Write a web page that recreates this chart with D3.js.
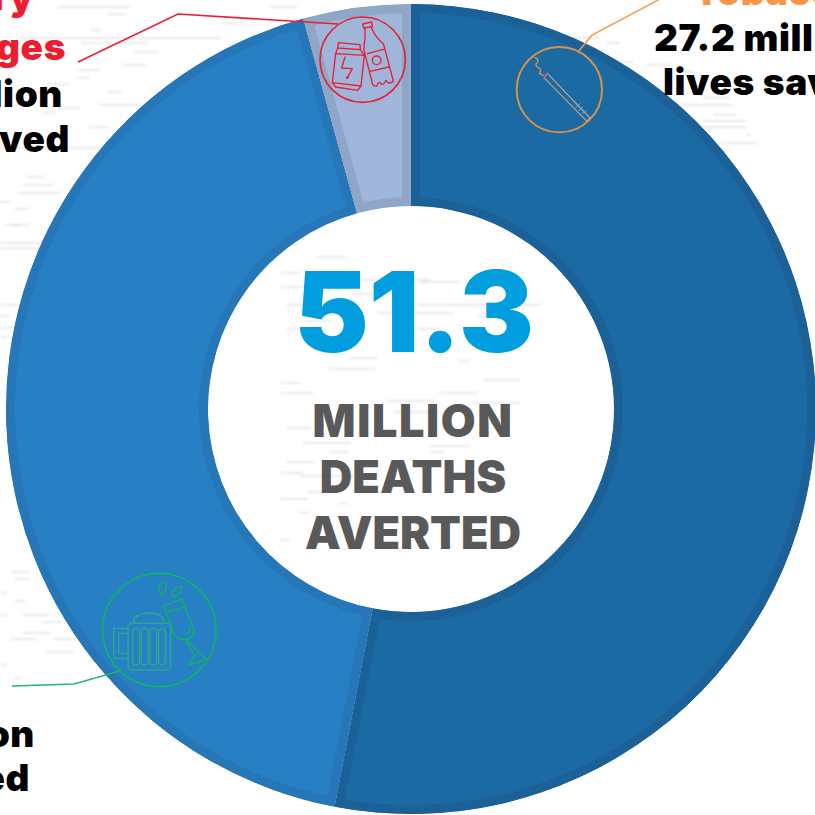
<!DOCTYPE html>
<html>
<head>
<meta charset="utf-8">
<script src="https://cdn.jsdelivr.net/npm/d3@7/dist/d3.min.js"></script>
<style>
  html, body { margin: 0; padding: 0; background: #fff; overflow: hidden; }
  svg { display: block; }
  text { font-family: Inter, "Open Sans", sans-serif; font-weight: 900; }
</style>
</head>
<body>
<svg id="chart" width="815" height="815"></svg>
<script>
// Deaths averted, millions of lives, clockwise from twelve o'clock
const categories = ["Tobacco", "Alcohol", "Sugary Beverages"];
const livesSaved = [27.2, 21.9, 2.2];
const sliceFill = ["#1c6aa3", "#2780c4", "#9fb6da"];
const sliceEdge = ["#1b6198", "#2777b8", "#8fa6c6"];
const accent = ["#f7964a", "#22b573", "#ed1c2e"];

const totalLabel = "51.3";
const centreLines = ["MILLION", "DEATHS", "AVERTED"];
const centreTracking = [1.6, 0, 0];

// Faint ghosted print showing through the white page: x, y, length
const paperStreaks = [
  [317,257,28],[280,273,20],[358,280,72],[420,282,40],[280,287,26],[352,294,25],[287,305,50],[417,305,123],
  [377,313,77],[305,321,28],[287,329,30],[417,329,23],[477,316,30],[350,358,27],[328,369,48],[458,361,12],
  [483,380,37],[280,383,20],[280,393,33],[440,393,38],[387,401,47],[473,403,47],[393,412,47],[287,428,24],
  [303,443,48],[430,446,40],[330,452,18],[430,452,13],[287,462,27],[280,473,23],[300,476,57],[307,492,17],
  [280,499,27],[340,503,8],[300,513,8],[280,540,10],
  [57,7,73],[108,14,17],[270,7,27],[222,23,22],[90,30,10],[20,38,200],[82,43,65],[133,52,25],[77,70,23],
  [123,65,23],[77,78,12],[47,84,23],[107,92,15],[100,105,43],[58,108,22],[43,113,13],[88,127,20],[0,148,107],
  [27,177,17],[23,185,30],[17,193,43],[0,202,10],[15,209,13],[13,225,17],[0,243,43],[0,248,40],[5,225,15],
  [0,305,17],[0,316,10],[0,328,13],[0,337,7],
  [12,572,18],[15,579,15],[0,593,7],[15,601,10],[0,615,8],[23,615,27],[43,622,20],[23,633,27],[10,639,27],
  [53,639,23],[45,652,30],[0,665,7],[15,678,7],
  [570,38,30],[607,43,12],[620,62,13],[647,65,23],[677,72,17],[703,98,27],[680,105,53],[713,115,23],
  [703,121,42],[703,127,43],[747,135,4],[720,143,37]
];

const svg = d3.select("#chart");
const cx = 411, cy = 409, outerR = 405, innerR = 203, edge = 9;

const defs = svg.append("defs");
defs.append("filter").attr("id", "soft").attr("x", "-5%").attr("y", "-50%").attr("width", "110%").attr("height", "200%")
  .append("feGaussianBlur").attr("stdDeviation", 0.8);

svg.append("g").attr("filter", "url(#soft)")
  .selectAll("line").data(paperStreaks).join("line")
  .attr("x1", d => d[0]).attr("x2", d => d[0] + d[2])
  .attr("y1", d => d[1]).attr("y2", d => d[1])
  .attr("stroke", "#cfcfcf").attr("stroke-opacity", 0.45).attr("stroke-width", 2);

const pie = d3.pie().sort(null).value(d => d)(livesSaved);
const arc = d3.arc().innerRadius(innerR).outerRadius(outerR);
const ring = svg.append("g").attr("transform", `translate(${cx},${cy})`);

// Each slice carries an inner edge: a doubled stroke clipped to its own shape
ring.selectAll("g.slice").data(pie).join("g").attr("class", "slice").each(function (d, i) {
  const path = arc(d);
  defs.append("clipPath").attr("id", `slice-${i}`).append("path").attr("d", path);
  d3.select(this).append("path")
    .attr("d", path)
    .attr("fill", sliceFill[i])
    .attr("stroke", sliceEdge[i])
    .attr("stroke-width", edge * 2)
    .attr("clip-path", `url(#slice-${i})`);
});

// Centre total
svg.append("text").attr("x", 414).attr("y", 352).attr("text-anchor", "middle")
  .attr("font-size", 112).attr("fill", "#009ddf").text(totalLabel);
svg.selectAll("text.centre").data(centreLines).join("text").attr("class", "centre")
  .attr("x", 413).attr("y", (d, i) => 437 + i * 56).attr("text-anchor", "middle")
  .attr("font-size", 45).attr("letter-spacing", (d, i) => centreTracking[i])
  .attr("fill", "#595959").text(d => d);

// Side labels, each block aligned on the edge nearest the ring
const labelBlocks = [
  { anchor: "start", lines: [[694, 5, "Tobacco", 0], [654, 51, `${livesSaved[0]} million`, null], [663, 95, "lives saved", null]] },
  { anchor: "end", lines: [[34, 10, "Sugary", 2], [66, 60, "Beverages", 2], [63, 107, `${livesSaved[2]} million`, null], [70, 152, "lives saved", null]] },
  { anchor: "end", lines: [[-20, 690, "Alcohol", 1], [35, 747, `${livesSaved[1]} million`, null], [30, 791, "lives saved", null]] }
];
labelBlocks.forEach(b => b.lines.forEach(([x, y, s, c]) => {
  svg.append("text").attr("x", x).attr("y", y).attr("text-anchor", b.anchor)
    .attr("font-size", 37).attr("letter-spacing", 0.6)
    .attr("fill", c === null ? "#000" : accent[c]).text(s);
}));

// Leader lines from label to icon
const leader = d3.line();
const leaders = [
  { c: 0, pts: [[578, 52], [592, 35], [662, -2]] },
  { c: 1, pts: [[12, 686], [74, 684], [120, 671]] },
  { c: 2, pts: [[78, 62], [178, 14], [338, 24]] }
];
leaders.forEach(l => svg.append("path").attr("d", leader(l.pts)).attr("fill", "none")
  .attr("stroke", accent[l.c]).attr("stroke-width", 1.5));

// Line icons, outlined in a 3x working grid and scaled down into place
function icon(x, y, colour, draw) {
  const g = svg.append("g").attr("transform", `translate(${x},${y}) scale(${1 / 3})`)
    .attr("fill", "none").attr("stroke", colour).attr("stroke-width", 4)
    .attr("stroke-linejoin", "round").attr("stroke-linecap", "round");
  draw(g);
}
const outline = (g, d, extra = {}) => {
  const p = g.append("path").attr("d", d);
  Object.entries(extra).forEach(([k, v]) => p.attr(k, v));
};
const ringMark = (g, x, y, r, w = 5) => g.append("circle").attr("cx", x).attr("cy", y).attr("r", r).attr("stroke-width", w);

// Bottle and can
icon(315, 12, "#e8202f", g => {
  ringMark(g, 143, 143, 128);
  outline(g, "M143,36 L170,30 L172,44 L146,48 Z");
  outline(g, "M150,47 L150,80 Q146,100 147,115 L170,205 Q172,225 185,222 Q192,205 197,215 Q205,222 213,205 Q222,220 235,207 L205,95 Q180,75 168,44");
  outline(g, "M157,125 L205,112 M165,178 L222,165");
  ringMark(g, 185, 145, 13, 4);
  outline(g, "M68,108 L70,92 L135,98 L136,113 Z");
  outline(g, "M68,108 L62,125 L52,212 L62,225 L128,235 L138,222 L148,130 L136,113");
  outline(g, "M62,125 L148,130 M52,212 L138,222");
  outline(g, "M90,135 L80,168 L112,170 L97,197");
  ringMark(g, 97, 197, 2, 4);
});

// Cigarette
icon(512, 42, "#d4924f", g => {
  ringMark(g, 142, 143, 128, 6);
  outline(g, "M70,47 Q85,55 72,66 Q70,74 84,80 Q88,90 82,95 L94,100", { "stroke-width": 4 });
  outline(g, "M106,94 L234,228 L225,238 L96,107 Z", { stroke: "#b8a58c", "stroke-width": 3.5 });
  outline(g, "M192,196 L204,185 M200,205 L212,196 M210,215 L222,206", { stroke: "#8fa5ad", "stroke-width": 3 });
  outline(g, "M96,107 L106,94", { stroke: "#c8607a", "stroke-width": 5 });
  outline(g, "M222,240 L236,226", { "stroke-width": 4 });
});

// Beer mug and flute
icon(98, 570, "#13b169", g => {
  ringMark(g, 184, 180, 170, 5);
  const mug = g.append("g").attr("stroke", "#2fa88c");
  mug.append("rect").attr("x", 90).attr("y", 160).attr("width", 128).attr("height", 140).attr("rx", 12);
  [104, 130, 156, 182].forEach(x => mug.append("rect").attr("x", x).attr("y", 175).attr("width", 20).attr("height", 110).attr("rx", 10));
  outline(mug, "M90,175 L47,175 L47,265 L90,265 M90,190 L62,190 L62,250 L90,250");
  outline(mug, "M107,160 Q105,140 125,135 Q150,125 175,132 Q195,135 200,160");
  outline(g, "M198,107 L252,87 L288,180 Q290,205 262,208 Q235,212 225,185 Z");
  outline(g, "M208,118 Q218,130 228,118 Q240,125 258,108");
  outline(g, "M275,170 Q278,190 262,195");
  outline(g, "M262,208 L290,258 L270,285 L325,268 Z");
  outline(g, "M192,78 C180,60 178,37 195,37 C212,37 208,60 192,78 Z");
  outline(g, "M222,80 C220,60 235,48 252,50 C252,68 240,80 222,80 Z");
});
</script>
</body>
</html>
